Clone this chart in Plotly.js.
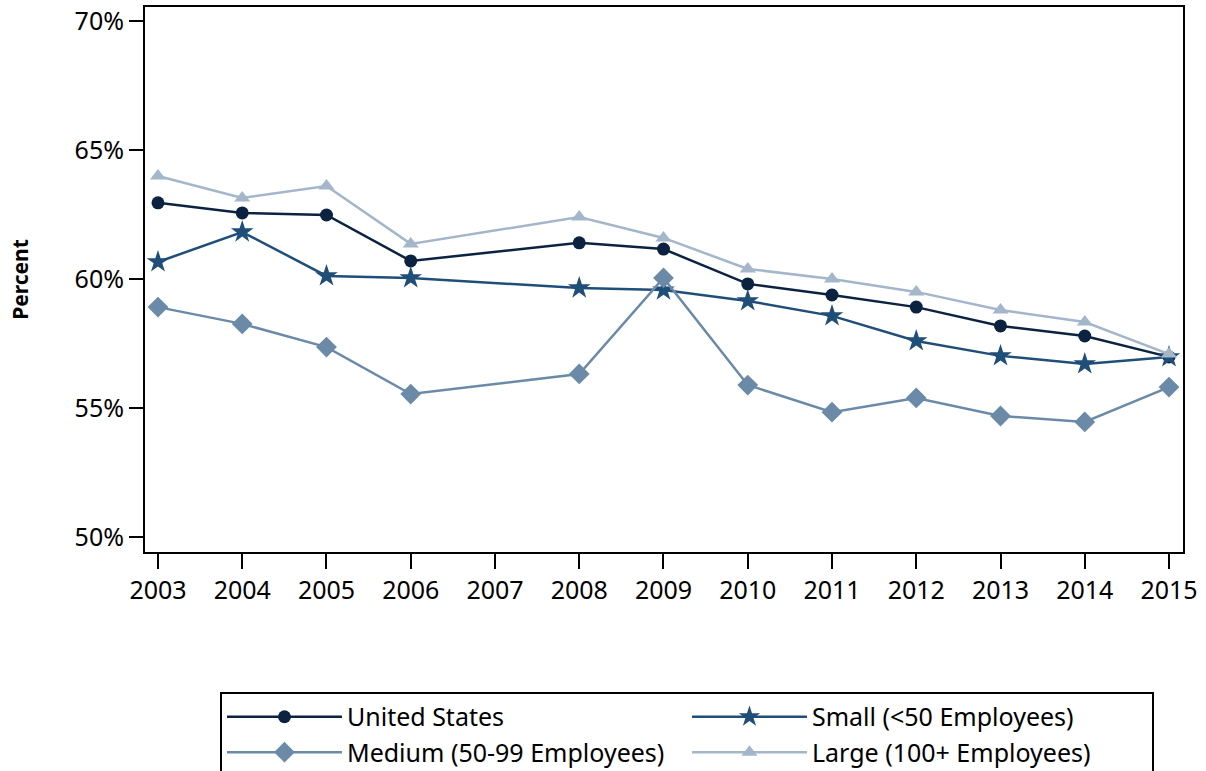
<!DOCTYPE html>
<html>
<head>
<meta charset="utf-8">
<script src="https://cdn.plot.ly/plotly-3.0.1.min.js"></script>
<style>html,body{margin:0;padding:0;background:#fff;}#chart{width:1206px;height:771px;}</style>
</head>
<body>
<div id="chart"></div>
<script>
var years = [2003, 2004, 2005, 2006, 2008, 2009, 2010, 2011, 2012, 2013, 2014, 2015];
var tickYears = [2003, 2004, 2005, 2006, 2007, 2008, 2009, 2010, 2011, 2012, 2013, 2014, 2015];
var unitedStates = [62.95, 62.56, 62.48, 60.70, 61.40, 61.16, 59.81, 59.38, 58.91, 58.18, 57.79, 56.98];
var small = [60.66, 61.82, 60.12, 60.04, 59.65, 59.57, 59.15, 58.57, 57.60, 57.02, 56.71, 56.98];
var medium = [58.91, 58.26, 57.36, 55.54, 56.32, 60.04, 55.89, 54.84, 55.39, 54.69, 54.46, 55.81];
var large = [63.99, 63.14, 63.60, 61.36, 62.40, 61.59, 60.39, 60.00, 59.50, 58.80, 58.33, 57.09];
var yTicks = [50, 55, 60, 65, 70];
var yTickText = ['50%', '55%', '60%', '65%', '70%'];

var FONT = 'Noto Sans, Open Sans, sans-serif';
function tr(name, y, color, symbol, size) {
  return {
    x: years, y: y, name: name, type: 'scatter', mode: 'lines+markers',
    line: {color: color, width: 2.5},
    marker: {color: color, symbol: symbol, size: size}
  };
}
var data = [
  tr('United States', unitedStates, '#0b2240', 'circle', 13),
  tr('Small (<50 Employees)', small, '#1f4e79', 'star', 17),
  tr('Medium (50-99 Employees)', medium, '#6a8aa8', 'diamond', 16),
  tr('Large (100+ Employees)', large, '#a3b6ca', 'triangle-up', 14)
];
var layout = {
  width: 1206, height: 771,
  margin: {l: 145, r: 23, t: 7, b: 219, autoexpand: false},
  paper_bgcolor: '#fff', plot_bgcolor: '#fff',
  font: {family: FONT, size: 25, color: '#000'},
  showlegend: true,
  xaxis: {
    range: [2002.846, 2015.166], tickmode: 'array', tickvals: tickYears,
    ticktext: tickYears.map(String),
    showgrid: false, zeroline: false, showline: true, linecolor: '#000', linewidth: 2,
    mirror: true, ticks: 'outside', ticklen: 15, tickwidth: 2, tickcolor: '#000',
    tickfont: {family: FONT, size: 25}, automargin: false
  },
  yaxis: {
    range: [49.42, 70.54], tickmode: 'array', tickvals: yTicks, ticktext: yTickText,
    showgrid: false, zeroline: false, showline: true, linecolor: '#000', linewidth: 2,
    mirror: true, ticks: 'outside', ticklen: 14, tickwidth: 2, tickcolor: '#000',
    tickfont: {family: FONT, size: 25}, automargin: false,
    title: {text: '<b>Percent</b>', font: {family: FONT, size: 21}, standoff: 40}
  },
  legend: {
    orientation: 'h', xref: 'container', yref: 'container',
    x: 0.1824, xanchor: 'left', y: 0.1025, yanchor: 'top',
    bordercolor: '#000', borderwidth: 2, bgcolor: '#fff',
    entrywidth: 335, entrywidthmode: 'pixels',
    font: {family: FONT, size: 25},
    itemwidth: 115, tracegroupgap: 0
  }
};
Plotly.newPlot('chart', data, layout, {displayModeBar: false, staticPlot: true});
</script>
</body>
</html>
